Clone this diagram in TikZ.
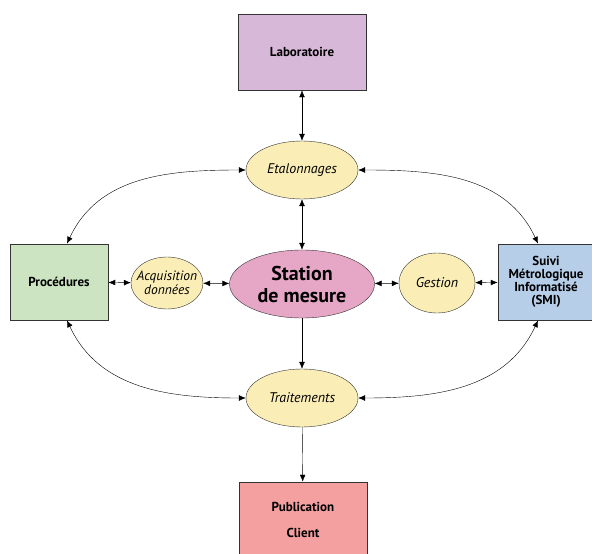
\documentclass[tikz,border=0pt]{standalone}
\usepackage{fontspec}
\setmainfont{PT Sans}
\usepackage{tikz}
\usetikzlibrary{positioning,arrows.meta,calc}
\definecolor{LaboMauve}{RGB}{216,184,216}
\definecolor{ProcGreen}{RGB}{204,228,194}
\definecolor{SmiBlue}{RGB}{182,206,232}
\definecolor{PubRed}{RGB}{244,160,160}
\definecolor{StationPink}{RGB}{230,166,198}
\definecolor{TaskYellow}{RGB}{250,238,182}
\tikzset{
    box/.style={draw=black!80,thick,minimum width=#1,minimum height=76pt,align=center,font=\bfseries\fontsize{13}{14}\selectfont},
    task/.style={draw=black!80,fill=TaskYellow,ellipse,inner sep=0pt,align=center,font=\itshape\fontsize{14}{15}\selectfont},
    link/.style={{Latex[length=2.4mm,width=2mm]}-{Latex[length=2.4mm,width=2mm]},thin},
    flow/.style={-{Latex[length=2.4mm,width=2mm]},thin},
}
\usetikzlibrary{shapes.geometric}
\begin{document}
\begin{tikzpicture}[x=1pt,y=-1pt]
            \useasboundingbox (0,0) rectangle (592,554);
            \node[box=128pt,fill=LaboMauve] (labo) at (302,52) {Laboratoire};
            \node[box=98pt,fill=ProcGreen] (proc) at (59,282) {Procédures};
            \node[box=96pt,fill=SmiBlue,font=\bfseries\fontsize{13}{13}\selectfont] (smi) at (546,282) {Suivi\\Métrologique\\Informatisé\\(SMI)};
            \node[box=128pt,fill=PubRed] (pub) at (303,520) {Publication\\[12pt]Client};
            \node[draw=black!80,fill=StationPink,ellipse,minimum width=145pt,minimum height=68pt,inner sep=0pt,align=center,font=\bfseries\fontsize{20}{22}\selectfont] (station) at (302,284) {Station\\de mesure};
            \node[task,minimum width=112pt,minimum height=58pt] (etal) at (302,170) {Etalonnages};
            \node[task,minimum width=112pt,minimum height=58pt] (trait) at (302,398) {Traitements};
            \node[task,minimum width=72pt,minimum height=52pt,inner xsep=-9pt,font=\itshape\fontsize{13.5}{13.5}\selectfont] (acq) at (167,283) {Acquisition\\données};
            \node[task,minimum width=76pt,minimum height=60pt] (gest) at (437,283) {Gestion};
            \draw[link] (labo) -- (etal);
            \draw[link] (etal) -- (station);
            \draw[flow] (station) -- (trait);
            \draw[flow] (trait) -- (pub);
            \draw[link] (proc) -- (acq);
            \draw[link] (acq) -- (station);
            \draw[link] (station) -- (gest);
            \draw[link] (gest) -- (smi);
            \draw[link] (etal.west) to[out=180,in=65] ($(proc.north)+(8,0)$);
            \draw[link] (etal.east) to[out=0,in=115] ($(smi.north)+(-8,0)$);
            \draw[link] ($(proc.south)+(8,0)$) to[out=-65,in=180] (trait.west);
            \draw[link] ($(smi.south)+(-8,0)$) to[out=-115,in=0] (trait.east);
        \end{tikzpicture}
\end{document}
